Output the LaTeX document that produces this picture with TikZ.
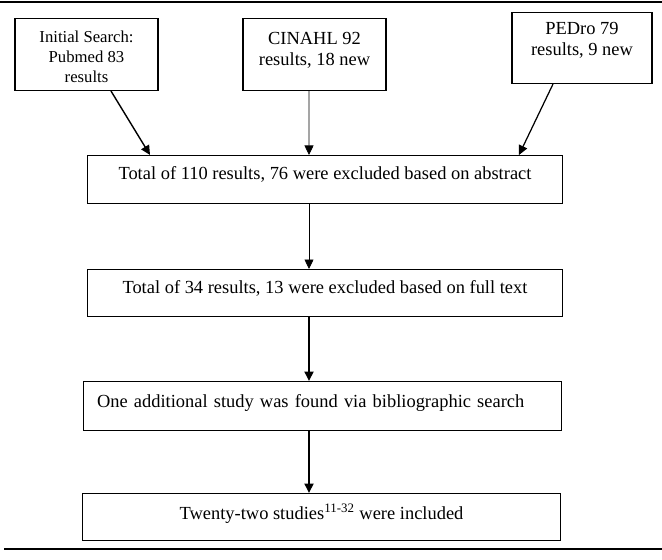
\documentclass[tikz,border=0pt]{standalone}
\usepackage{fontspec}
\setmainfont{Liberation Serif}
\usepackage{tikz}
\usetikzlibrary{arrows.meta}

\begin{document}
\begin{tikzpicture}[x=0.02cm, y=-0.02cm,
    box/.style={draw, line width=0.6pt, inner sep=0pt, align=center, anchor=north, font=\fontsize{10.5}{11.9}\selectfont},
    link/.style={-{Triangle[length=0.19cm, width=0.18cm]}}]
    \useasboundingbox (0, 0) rectangle (662, 560);

    \draw[line width=1.2pt] (0, 2) -- (662, 2);
    \draw[line width=1.5pt] (4, 549) -- (662, 549);

    \node[box, minimum width=2.86cm, text height=1.28cm, text depth=0.16cm, font=\fontsize{9.5}{11.4}\selectfont] (pubmed) at (86.5, 18) {Initial Search:\\Pubmed 83\\results};
    \node[box, minimum width=2.86cm, text height=0.94cm, text depth=0.5cm] (cinahl) at (314.5, 18) {CINAHL 92\\results, 18 new};
    \node[box, minimum width=2.8cm, text height=0.86cm, text depth=0.56cm] (pedro) at (582, 12) {PEDro 79\\results, 9 new};

    \node[box, minimum width=9.52cm, text height=0.48cm, text depth=0.48cm] (abstr) at (325, 155) {Total of 110 results, 76 were excluded based on abstract};
    \node[box, minimum width=9.52cm, text height=0.48cm, text depth=0.46cm] (fulltext) at (325, 269) {Total of 34 results, 13 were excluded based on full text};
    \node[box, align=left, inner xsep=0.28cm, text width=9.02cm, text height=0.52cm, text depth=0.46cm] (biblio) at (322.5, 381) {One additional study was found via bibliographic search};
    \node[box, minimum width=9.58cm, text height=0.52cm, text depth=0.42cm] (incl) at (321.5, 493) {Twenty-two studies\textsuperscript{11-32} were included};

    \draw[link, line width=0.8pt] ([xshift=0.49cm]pubmed.south) -- ([xshift=-3.5cm]abstr.north);
    \draw[link, line width=0.4pt] ([xshift=-0.11cm]cinahl.south) -- ([xshift=-0.32cm]abstr.north);
    \draw[link, line width=0.7pt] ([xshift=-0.58cm]pedro.south) -- ([xshift=3.88cm]abstr.north);
    \draw[link, line width=0.4pt] ([xshift=-0.32cm]abstr.south) -- ([xshift=-0.32cm]fulltext.north);
    \draw[link, line width=1.1pt] ([xshift=-0.32cm]fulltext.south) -- ([xshift=-0.27cm]biblio.north);
    \draw[link, line width=1.1pt] ([xshift=-0.27cm]biblio.south) -- ([xshift=-0.25cm]incl.north);
\end{tikzpicture}
\end{document}
